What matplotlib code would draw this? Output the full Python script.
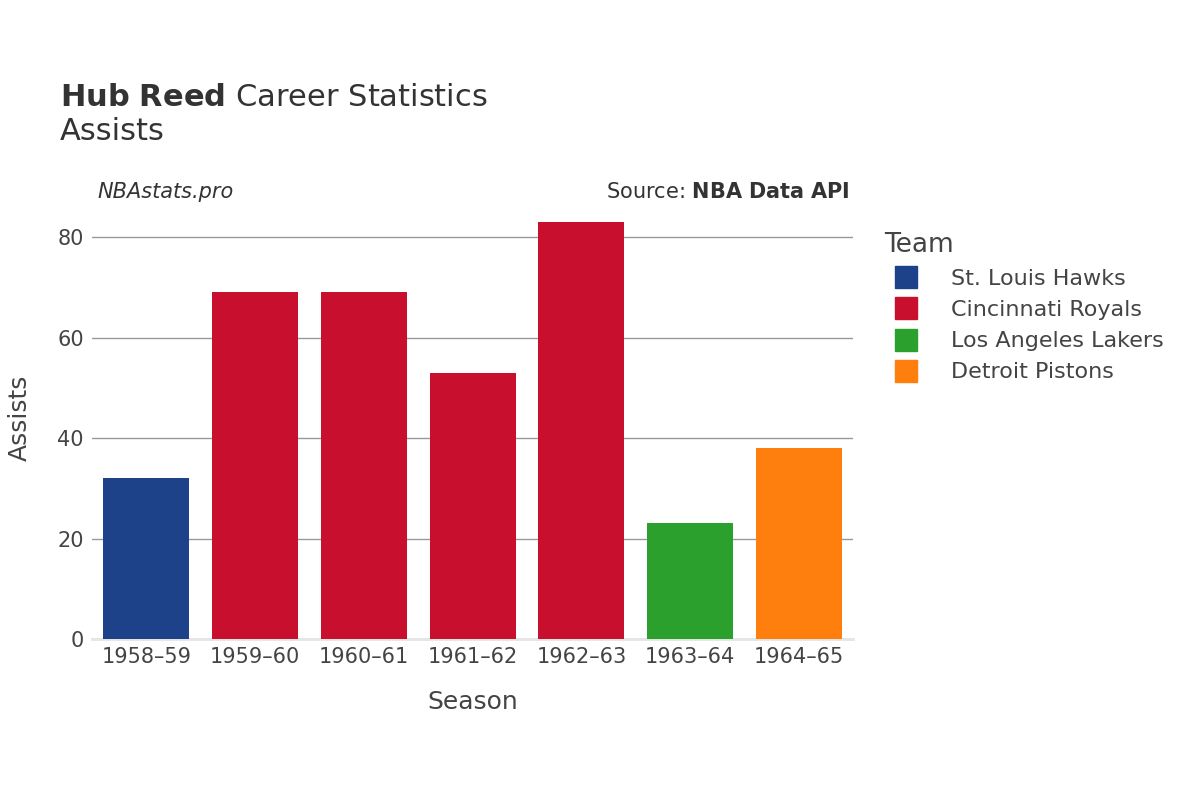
import matplotlib.pyplot as plt
from matplotlib.patches import Patch
from matplotlib.lines import Line2D

seasons = ['1958–59', '1959–60', '1960–61', '1961–62', '1962–63', '1963–64', '1964–65']
assists = [32, 69, 69, 53, 83, 23, 38]
teams = ['St. Louis Hawks', 'Cincinnati Royals', 'Cincinnati Royals', 'Cincinnati Royals',
         'Cincinnati Royals', 'Los Angeles Lakers', 'Detroit Pistons']
team_names = ['St. Louis Hawks', 'Cincinnati Royals', 'Los Angeles Lakers', 'Detroit Pistons']
team_colors = ['#1d428a', '#c8102e', '#2ca02c', '#ff7f0e']
color_of = dict(zip(team_names, team_colors))

plt.rcParams['font.family'] = 'DejaVu Sans'
fig = plt.figure(figsize=(12, 8), dpi=100)
ax = fig.add_axes([0.0767, 0.20125, 0.6343, 0.5525])

x = range(len(seasons))
ax.bar(x, assists, width=0.79, color=[color_of[t] for t in teams], zorder=3)
ax.set_xlim(-0.5, len(seasons) - 0.5)
ax.set_ylim(0, 88)
ax.set_yticks([0, 20, 40, 60, 80])
ax.grid(axis='y', color='#999999', linewidth=1, zorder=0)
for s in ['top', 'right', 'left']:
    ax.spines[s].set_visible(False)
ax.spines['bottom'].set_color('#e5e5e5')
ax.spines['bottom'].set_linewidth(2)
ax.tick_params(axis='both', length=0, labelsize=15, colors='#444444', pad=6)
ax.set_xticks(list(x))
ax.set_xticklabels(seasons)
ax.set_xlabel('Season', fontsize=18, color='#444444', labelpad=16)
ax.set_ylabel('Assists', fontsize=18, color='#444444', labelpad=18)

fig.text(0.05, 0.878, r'$\bf{Hub\ Reed}$ Career Statistics', fontsize=22, color='#333333', va='center')
fig.text(0.05, 0.835, 'Assists', fontsize=22, color='#333333', va='center')
fig.text(0.081, 0.76, 'NBAstats.pro', fontsize=15, style='italic', color='#333333', va='center')
fig.text(0.708, 0.76, r'Source: $\bf{NBA\ Data\ API}$', fontsize=15, color='#333333', va='center', ha='right')

handles = [Line2D([0], [0], marker='s', linestyle='', markersize=16, markerfacecolor=c,
                  markeredgecolor=c) for c in team_colors]
leg = fig.legend(handles, team_names, loc='upper left', bbox_to_anchor=(0.72, 0.735),
                 frameon=False, fontsize=16, title='Team', title_fontsize=19,
                 labelspacing=0.5, handletextpad=1.0, labelcolor='#444444')
leg._legend_box.align = 'left'
leg.get_title().set_color('#444444')

fig.savefig('out.png', dpi=100)
